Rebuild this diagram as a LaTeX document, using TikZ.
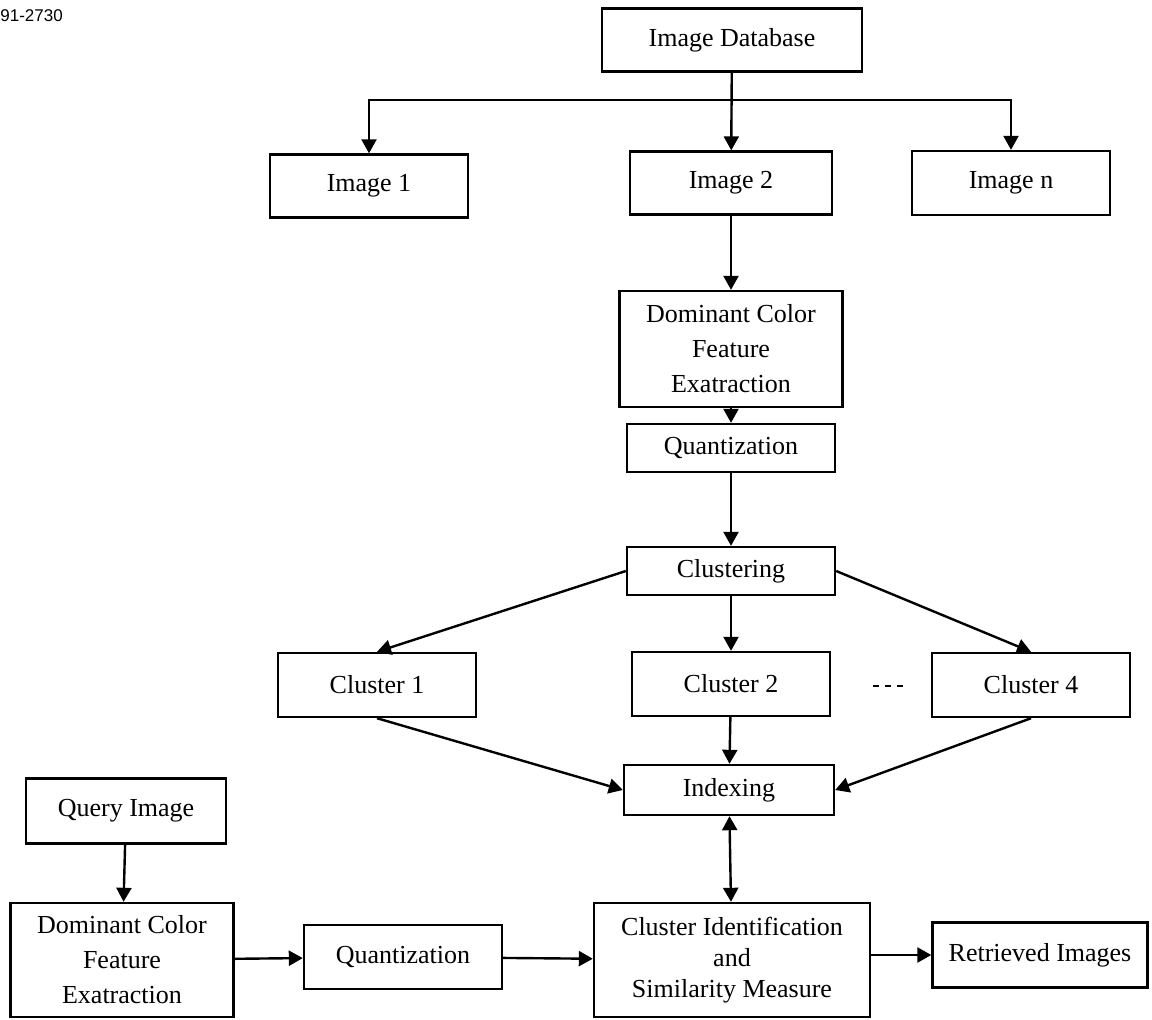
\documentclass[tikz,border=0pt]{standalone}
\usepackage{fontspec}
\setmainfont{Liberation Serif}
\newfontfamily\headfont{Liberation Sans}
\usetikzlibrary{arrows.meta, positioning}

\begin{document}
\begin{tikzpicture}[x=0.5pt, y=-0.5pt,
            box/.style={draw, line width=1.2pt, rectangle, inner sep=0pt, align=center, font=\fontsize{13}{17.5}\selectfont},
            arrow/.style={-{Triangle[length=7pt,width=7.5pt]}, line width=1.2pt}]

            \useasboundingbox (0,0) rectangle (1152,1019);
            \node[anchor=west, inner sep=0pt, font=\headfont\fontsize{8.5}{10}\selectfont] (hdr) at (0,16) {91-2730};

            \node[box, minimum width=130pt, minimum height=31.5pt] (db) at (732,40) {Image Database};
            \node[box, minimum width=99pt, minimum height=31.5pt] (img1) at (369,186) {Image 1};
            \node[box, minimum width=101pt, minimum height=31.5pt] (img2) at (731,183) {Image 2};
            \node[box, minimum width=99pt, minimum height=32pt] (imgn) at (1011,183) {Image n};
            \node[box, minimum width=111.5pt, minimum height=58pt] (dcf) at (731,349) {Dominant Color\\Feature\\Exatraction};
            \node[box, minimum width=104pt, minimum height=24pt] (quant) at (731,448) {Quantization};
            \node[box, minimum width=104pt, minimum height=24pt] (clust) at (731,571) {Clustering};
            \node[box, minimum width=99pt, minimum height=32pt] (c1) at (377,685) {Cluster 1};
            \node[box, minimum width=99pt, minimum height=32pt] (c2) at (731,684) {Cluster 2};
            \node[box, minimum width=99pt, minimum height=32pt] (c4) at (1031,685) {Cluster 4};
            \node[box, minimum width=105pt, minimum height=25pt] (idx) at (729,790) {Indexing};
            \node[box, minimum width=100pt, minimum height=32.5pt] (query) at (126,811) {Query Image};
            \node[box, minimum width=111.5pt, minimum height=57pt] (dcf2) at (122,960) {Dominant Color\\Feature\\Exatraction};
            \node[box, minimum width=99pt, minimum height=32pt] (quant2) at (403,957) {Quantization};
            \node[box, minimum width=138pt, minimum height=57pt, font=\fontsize{13}{15.5}\selectfont] (cism) at (732,960) {Cluster Identification\\and\\Similarity Measure};
            \node[box, minimum width=107.5pt, minimum height=32.5pt] (ret) at (1040,955) {Retrieved Images};

            \coordinate (split) at (732,100);
            \coordinate (dotsa) at (873,686);
            \coordinate (dotsb) at (903,686);

            \draw[arrow] (db) -- (img2);
            \draw[arrow] (split) -| (img1.north);
            \draw[arrow] (split) -| (imgn.north);
            \draw[arrow] (img2) -- (dcf);
            \draw[arrow] (dcf) -- (quant);
            \draw[arrow] (quant) -- (clust);
            \draw[arrow] (clust.west) -- (c1.north);
            \draw[arrow] (clust) -- (c2);
            \draw[arrow] (clust.east) -- (c4.north);
            \draw[line width=1pt, dash pattern=on 3.2pt off 2.8pt] (dotsa) -- (dotsb);
            \draw[arrow] (c1.south) -- (idx.west);
            \draw[arrow] (c2) -- (idx);
            \draw[arrow] (c4.south) -- (idx.east);
            \draw[arrow, {Triangle[length=7pt,width=7.5pt]}-{Triangle[length=7pt,width=7.5pt]}] (idx) -- (cism);
            \draw[arrow] (query) -- (dcf2);
            \draw[arrow] (dcf2) -- (quant2);
            \draw[arrow] (quant2) -- (cism);
            \draw[arrow] (cism.east |- ret) -- (ret);
        \end{tikzpicture}
\end{document}
